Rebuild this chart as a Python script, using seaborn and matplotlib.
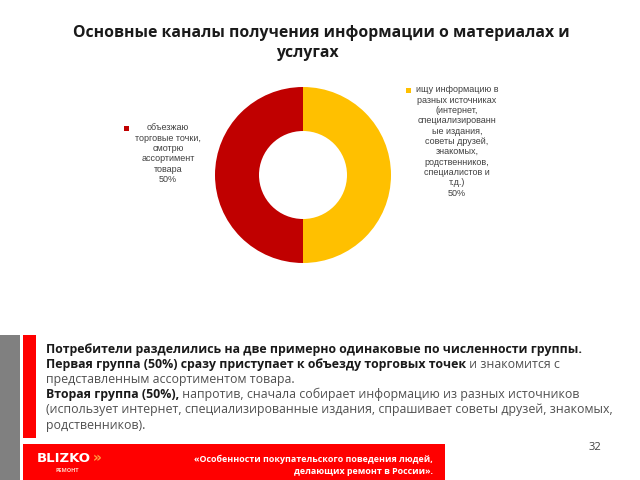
import matplotlib
matplotlib.use("Agg")
import matplotlib.pyplot as plt
import seaborn as sns
from matplotlib.patches import Rectangle

sns.set_theme(style="white")
plt.rcParams['font.family'] = ['Open Sans', 'DejaVu Sans']

# ---- data ----
categories = ["ищу информацию в разных источниках", "объезжаю торговые точки, смотрю ассортимент товара"]
values = [50, 50]
colors = ["#FFC000", "#C00000"]
label_right = ["ищу информацию в", "разных источниках", "(интернет,", "специализированн",
               "ые издания,", "советы друзей,", "знакомых,", "родственников,",
               "специалистов и", "т.д.)", "50%"]
label_left = ["объезжаю", "торговые точки,", "смотрю", "ассортимент", "товара", "50%"]
title_lines = ["Основные каналы получения информации о материалах и", "услугах"]
body = [
    [("Потребители разделились на две примерно одинаковые по численности группы.", True)],
    [("Первая группа (50%) сразу приступает к объезду торговых точек", True), (" и знакомится с", False)],
    [("представленным ассортиментом товара.", False)],
    [("Вторая группа (50%),", True), (" напротив, сначала собирает информацию из разных источников", False)],
    [("(использует интернет, специализированные издания, спрашивает советы друзей, знакомых,", False)],
    [("родственников).", False)],
]
footer_lines = ["«Особенности покупательского поведения людей,", "делающих ремонт в России»."]
page_number = "32"

W, H = 640, 480
fig = plt.figure(figsize=(6.4, 4.8), dpi=100)
fig.patch.set_facecolor("white")

def fx(x): return x / W
def fy(y): return 1 - y / H

# decorative blocks
fig.patches.append(Rectangle((fx(0), fy(480)), 20 / W, 145 / H, transform=fig.transFigure,
                             facecolor="#808080", edgecolor="none"))
fig.patches.append(Rectangle((fx(23), fy(438)), 13 / W, 103 / H, transform=fig.transFigure,
                             facecolor="#FF0000", edgecolor="none"))
fig.patches.append(Rectangle((fx(23), fy(480)), 422 / W, 36 / H, transform=fig.transFigure,
                             facecolor="#FF0000", edgecolor="none"))

# title
fig.text(fx(321), fy(33), title_lines[0], ha="center", va="center", fontsize=11.3,
         fontweight="bold", color="#1a1a1a")
fig.text(fx(307), fy(53), title_lines[1], ha="center", va="center", fontsize=11.3,
         fontweight="bold", color="#1a1a1a")

# donut
cx, cy, r = 303, 175, 88
ax = fig.add_axes([fx(cx - r), fy(cy + r), 2 * r / W, 2 * r / H])
ax.pie(values, colors=colors, startangle=90, counterclock=False,
       wedgeprops=dict(width=0.5, edgecolor="none"))
ax.set_aspect("equal")
ax.set_xlim(-1, 1)
ax.set_ylim(-1, 1)
ax.axis("off")

# data labels
ys = 90
for i, t in enumerate(label_right):
    fig.text(fx(457), fy(ys + i * 10.3), t, ha="center", va="center", fontsize=6.5,
             color="#404040", family=["Liberation Sans", "DejaVu Sans"])
fig.patches.append(Rectangle((fx(406), fy(93)), 5 / W, 5 / H, transform=fig.transFigure,
                             facecolor=colors[0], edgecolor="none"))
ys = 128
for i, t in enumerate(label_left):
    fig.text(fx(168), fy(ys + i * 10.3), t, ha="center", va="center", fontsize=6.5,
             color="#404040", family=["Liberation Sans", "DejaVu Sans"])
fig.patches.append(Rectangle((fx(124), fy(131)), 5 / W, 5 / H, transform=fig.transFigure,
                             facecolor=colors[1], edgecolor="none"))

# body text with mixed weights
renderer = fig.canvas.get_renderer()
y0, dy = 349, 15.2
for i, parts in enumerate(body):
    x = 46
    for txt, bold in parts:
        t = fig.text(fx(x), fy(y0 + i * dy), txt, ha="left", va="center", fontsize=8.9,
                     fontweight="bold" if bold else "normal",
                     color="#1a1a1a" if bold else "#505050")
        bb = t.get_window_extent(renderer)
        x += bb.width

# footer
fig.text(fx(433), fy(459), footer_lines[0], ha="right", va="center", fontsize=6.4,
         fontweight="bold", color="white")
fig.text(fx(433), fy(471), footer_lines[1], ha="right", va="center", fontsize=6.4,
         fontweight="bold", color="white")
fig.text(fx(37), fy(459), "BLIZKO", ha="left", va="center", fontsize=9.5,
         fontweight="heavy", color="white", family=["DejaVu Sans"])
fig.text(fx(93), fy(458), "»", ha="left", va="center", fontsize=10,
         fontweight="bold", color="#FFA040", family=["DejaVu Sans"])
fig.text(fx(55), fy(471), "РЕМОНТ", ha="left", va="center", fontsize=4,
         fontweight="bold", color="#FFD0C0")

fig.text(fx(595), fy(447), page_number, ha="center", va="center", fontsize=8,
         color="#404040")

fig.savefig("out.png", dpi=100)
